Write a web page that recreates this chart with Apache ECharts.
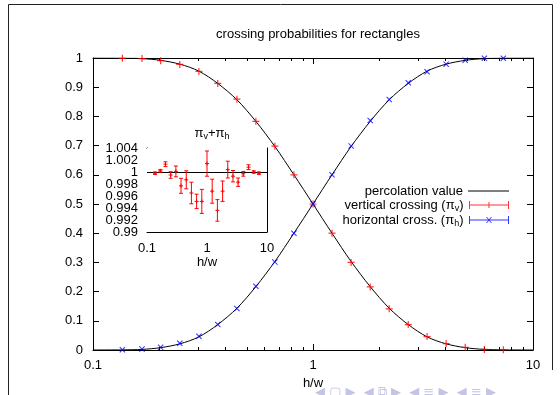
<!DOCTYPE html>
<html>
<head>
<meta charset="utf-8">
<script src="https://cdn.jsdelivr.net/npm/echarts@6/dist/echarts.min.js"></script>
<style>
  html, body { margin: 0; padding: 0; background: #fff; }
  #chart { width: 560px; height: 395px; }
</style>
</head>
<body>
<div id="chart"></div>
<script>
// aspect ratios h/w of the simulated rectangles
const ratios = [0.136, 0.167, 0.203, 0.248, 0.303, 0.369, 0.451, 0.550, 0.671, 0.819, 1.0,
                1.22, 1.49, 1.82, 2.22, 2.71, 3.30, 4.03, 4.92, 6.01, 7.33];
// measured crossing probabilities
const vertical = [0.999, 0.998, 0.991, 0.978, 0.954, 0.913, 0.859, 0.783, 0.698, 0.600, 0.500,
                  0.400, 0.300, 0.216, 0.141, 0.087, 0.046, 0.022, 0.009, 0.002, 0.001];
const horizontal = [0.001, 0.003, 0.009, 0.023, 0.047, 0.087, 0.142, 0.218, 0.301, 0.400, 0.501,
                    0.600, 0.699, 0.786, 0.858, 0.915, 0.953, 0.979, 0.992, 0.999, 0.999];
// pi_v + pi_h and its error (inset)
const sums = [0.9998, 1.0002, 1.0013, 0.9995, 1.0001, 0.9977, 0.9987, 0.9965, 0.9951, 0.9951, 1.0014,
              0.9968, 0.9936, 0.9968, 1.0004, 0.9993, 0.9983, 0.9997, 1.0008, 1.0000, 0.9998];
const sumErrors = [0.0002, 0.0002, 0.0004, 0.00055, 0.0009, 0.00125, 0.0015, 0.0018, 0.0012, 0.002, 0.0021,
                   0.002, 0.0018, 0.0017, 0.0014, 0.00095, 0.0007, 0.0004, 0.0004, 0.0002, 0.0002];
// inset y tick labels (bottom to top)
const insetTicks = ['0.99', '0.992', '0.994', '0.996', '0.998', '1', '1.002', '1.004'];
// percolation value (theory curve)
const curveX = [0.1, 0.136, 0.167, 0.203, 0.248, 0.303, 0.369, 0.451, 0.550, 0.671, 0.819, 1.0,
                1.22, 1.49, 1.82, 2.22, 2.71, 3.30, 4.03, 4.92, 6.01, 7.33, 10];
const curveVertical = [1.0, 0.9995, 0.998, 0.992, 0.979, 0.955, 0.913, 0.857, 0.783, 0.697, 0.600, 0.500,
                       0.400, 0.303, 0.217, 0.143, 0.087, 0.045, 0.021, 0.008, 0.002, 0.0005, 0.0];
const curveHorizontal = [0.0, 0.0005, 0.002, 0.008, 0.021, 0.045, 0.087, 0.143, 0.217, 0.303, 0.400, 0.500,
                         0.600, 0.697, 0.783, 0.857, 0.913, 0.955, 0.979, 0.992, 0.998, 0.9995, 1.0];

const FONT = '"Liberation Sans", Arial, Helvetica, sans-serif';
const RED = '#ff0000';
const BLUE = '#0000ff';

const plusSymbol = 'path://M2.9,0h1.2v7h-1.2zM0,2.9h7v1.2h-7z';
const crossSymbol = 'path://M0,0.85L0.85,0L7,6.15L6.15,7ZM6.15,0L7,0.85L0.85,7L0,6.15Z';
const lineIcon = 'path://M0,0h40v1h-40z';
const verticalIcon = 'path://M0,0h1v8h-1zM0,3.5h40v1h-40zM39,0h1v8h-1zM19.5,1h1v6h-1z';
const horizontalIcon = 'path://M0,0h1v8h-1zM0,3.5h40v1h-40zM39,0h1v8h-1zM17,1L18,1L23,7L22,7ZM22,1L23,1L18,7L17,7Z';

const subRich = {
    s: { fontSize: 9, fontFamily: FONT, color: '#000', verticalAlign: 'bottom', lineHeight: 10 }
};

function legendBox(name, top, icon) {
    return {
        data: [{ name: name, icon: icon }],
        right: 46,
        top: top,
        orient: 'vertical',
        align: 'right',
        itemWidth: 41,
        itemHeight: 8,
        selectedMode: false,
        textStyle: { fontSize: 13, fontFamily: FONT, color: '#000', lineHeight: 16, rich: subRich },
        formatter: function (n) {
            return n.replace('π_v', 'π{s|v}').replace('π_h', 'π{s|h}');
        }
    };
}

function mainAxisX(pos, showLabel) {
    return {
        type: 'log', logBase: 10, gridIndex: 0, position: pos, min: 0.1, max: 10,
        name: showLabel ? 'h/w' : '', nameLocation: 'middle', nameGap: 19,
        nameTextStyle: { fontSize: 13, fontFamily: FONT, color: '#000' },
        axisLine: { show: true, onZero: false, lineStyle: { color: '#000', width: 1 } },
        axisTick: { show: true, inside: true, length: 6, lineStyle: { color: '#000' } },
        minorTick: { show: true, splitNumber: 9, length: 3, lineStyle: { color: '#000' } },
        axisLabel: { show: showLabel, margin: 9, fontSize: 13, fontFamily: FONT, color: '#000' },
        splitLine: { show: false }
    };
}

function mainAxisY(pos, showLabel) {
    return {
        type: 'value', gridIndex: 0, position: pos, min: 0, max: 1, interval: 0.1,
        axisLine: { show: true, onZero: false, lineStyle: { color: '#000', width: 1 } },
        axisTick: { show: true, inside: true, length: 6, lineStyle: { color: '#000' } },
        axisLabel: { show: showLabel, margin: 10, fontSize: 13, fontFamily: FONT, color: '#000' },
        splitLine: { show: false }
    };
}

function insetAxisX(pos, showLabel) {
    return {
        type: 'log', logBase: 10, gridIndex: 1, position: pos, min: 0.1, max: 10,
        name: showLabel ? 'h/w' : '', nameLocation: 'middle', nameGap: 24,
        nameTextStyle: { fontSize: 13, fontFamily: FONT, color: '#000' },
        axisLine: { show: true, onZero: false, lineStyle: { color: '#000', width: 1 } },
        axisTick: { show: true, inside: true, length: 4, lineStyle: { color: '#000' } },
        minorTick: { show: true, splitNumber: 9, length: 2, lineStyle: { color: '#000' } },
        axisLabel: { show: showLabel, margin: 10, fontSize: 13, fontFamily: FONT, color: '#000' },
        splitLine: { show: false }
    };
}

function insetAxisY(pos) {
    return {
        type: 'value', gridIndex: 1, position: pos, min: 0.99, max: 1.004, interval: 0.002,
        axisLine: { show: true, onZero: false, lineStyle: { color: '#000', width: 1 } },
        axisTick: { show: true, inside: true, length: 4, lineStyle: { color: '#000' } },
        axisLabel: { show: false },
        splitLine: { show: false }
    };
}

// vertical error bar with caps and a small "+" at the value
function renderErrorBar(params, api) {
    const x = api.value(0), v = api.value(1), e = api.value(2);
    const p = api.coord([x, v]);
    const lo = api.coord([x, v - e]);
    const hi = api.coord([x, v + e]);
    const c = 2;
    const style = { stroke: RED, lineWidth: 1 };
    return {
        type: 'group',
        children: [
            { type: 'line', shape: { x1: p[0], y1: hi[1], x2: p[0], y2: lo[1] }, style: style },
            { type: 'line', shape: { x1: p[0] - c, y1: hi[1], x2: p[0] + c, y2: hi[1] }, style: style },
            { type: 'line', shape: { x1: p[0] - c, y1: lo[1], x2: p[0] + c, y2: lo[1] }, style: style },
            { type: 'line', shape: { x1: p[0] - c, y1: p[1], x2: p[0] + c, y2: p[1] }, style: style },
            { type: 'line', shape: { x1: p[0], y1: p[1] - c, x2: p[0], y2: p[1] + c }, style: style }
        ]
    };
}

const chart = echarts.init(document.getElementById('chart'), null, { renderer: 'canvas' });

const option = {
    backgroundColor: '#fff',
    animation: false,
    textStyle: { fontFamily: FONT },
    title: [
        {
            text: 'crossing probabilities for rectangles',
            left: 313, top: 23, textAlign: 'center',
            textStyle: { fontSize: 13, fontWeight: 'normal', fontFamily: FONT, color: '#000' }
        },
        {
            text: 'π{s|v}+π{s|h}',
            left: 207, top: 120, textAlign: 'center',
            textStyle: { fontSize: 13, fontWeight: 'normal', fontFamily: FONT, color: '#000', lineHeight: 16, rich: subRich }
        }
    ],
    legend: [
        legendBox('percolation value', 178, lineIcon),
        legendBox('vertical crossing (π_v)', 192, verticalIcon),
        legendBox('horizontal cross. (π_h)', 207, horizontalIcon)
    ],
    grid: [
        { left: 93, top: 58, width: 440, height: 292, show: false },
        { left: 147, top: 148, width: 120, height: 84, show: true, backgroundColor: '#fff', borderWidth: 0, z: 3 }
    ],
    xAxis: [
        mainAxisX('bottom', true),
        mainAxisX('top', false),
        insetAxisX('bottom', true),
        insetAxisX('top', false)
    ],
    yAxis: [
        mainAxisY('left', true),
        mainAxisY('right', false),
        insetAxisY('left'),
        insetAxisY('right'),
        {
            // labels of the inset y axis, one per tick
            type: 'category', gridIndex: 1, position: 'left', data: insetTicks, boundaryGap: false,
            axisLine: { show: false }, axisTick: { show: false }, splitLine: { show: false },
            axisLabel: { interval: 0, margin: 9, fontSize: 13, fontFamily: FONT, color: '#000' }
        }
    ],
    series: [
        {
            name: 'percolation value', type: 'line', xAxisIndex: 0, yAxisIndex: 0,
            data: curveX.map((x, i) => [x, curveVertical[i]]),
            smooth: 0.3, symbol: 'none', lineStyle: { color: '#000', width: 1 }, itemStyle: { color: '#000' }
        },
        {
            name: 'percolation value', type: 'line', xAxisIndex: 0, yAxisIndex: 0,
            data: curveX.map((x, i) => [x, curveHorizontal[i]]),
            smooth: 0.3, symbol: 'none', lineStyle: { color: '#000', width: 1 }, itemStyle: { color: '#000' }
        },
        {
            name: 'vertical crossing (π_v)', type: 'scatter', xAxisIndex: 0, yAxisIndex: 0,
            data: ratios.map((x, i) => [x, vertical[i]]),
            symbol: plusSymbol, symbolSize: 7, itemStyle: { color: RED }, z: 4
        },
        {
            name: 'horizontal cross. (π_h)', type: 'scatter', xAxisIndex: 0, yAxisIndex: 0,
            data: ratios.map((x, i) => [x, horizontal[i]]),
            symbol: crossSymbol, symbolSize: 6, itemStyle: { color: BLUE }, z: 4
        },
        {
            name: 'sum', type: 'custom', xAxisIndex: 2, yAxisIndex: 2,
            data: ratios.map((x, i) => [x, sums[i], sumErrors[i]]),
            encode: { x: 0, y: 1 },
            renderItem: renderErrorBar,
            z: 5,
            markLine: {
                silent: true, symbol: 'none', z: 4,
                label: { show: false },
                lineStyle: { color: '#000', type: 'solid', width: 1 },
                data: [{ yAxis: 1 }]
            }
        }
    ],
    graphic: [
        // slide frame
        { type: 'line', shape: { x1: 8.5, y1: 4.5, x2: 552.5, y2: 4.5 }, style: { stroke: '#222', lineWidth: 1 } },
        { type: 'line', shape: { x1: 8.5, y1: 4.5, x2: 8.5, y2: 395 }, style: { stroke: '#222', lineWidth: 1 } },
        { type: 'line', shape: { x1: 552.5, y1: 4.5, x2: 552.5, y2: 370 }, style: { stroke: '#222', lineWidth: 1 } },
        // beamer navigation symbols
        {
            type: 'text', left: 315, top: 386,
            style: { text: '◀ ▢ ▶  ◀ ⧉ ▶  ◀ ≡ ▶  ◀ ≡ ▶', fill: '#c4c4e6', font: '13px "DejaVu Sans"' }
        }
    ]
};

chart.setOption(option);
</script>
</body>
</html>
